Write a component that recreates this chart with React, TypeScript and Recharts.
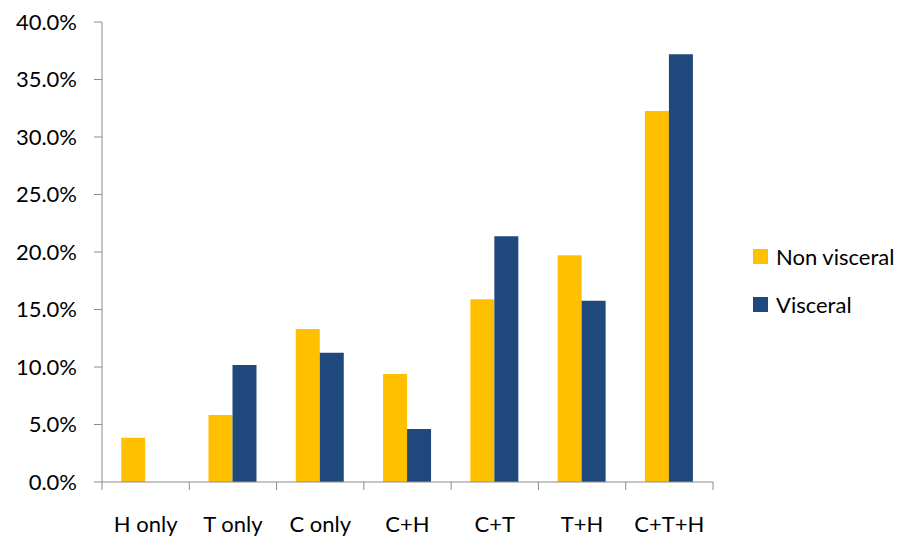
import React from "react";
import { BarChart, Bar, XAxis, YAxis } from "recharts";

const categories = ["H only", "T only", "C only", "C+H", "C+T", "T+H", "C+T+H"];
const nonVisceral = [3.85, 5.83, 13.3, 9.39, 15.89, 19.71, 32.26];
const visceral = [null, 10.17, 11.24, 4.6, 21.36, 15.77, 37.19];
const yTicks = [0, 5, 10, 15, 20, 25, 30, 35, 40];

const series = [
  { key: "nonVisceral", name: "Non visceral", color: "#FFC000" },
  { key: "visceral", name: "Visceral", color: "#1F497D" },
];

const W = 907;
const H = 538;
const MARGIN = { top: 22, right: 194, bottom: 6, left: 0 };
const Y_AXIS_W = 102;
const PLOT_W = W - MARGIN.left - MARGIN.right - Y_AXIS_W;
const FONT = "Lato, 'Open Sans', sans-serif";
const FONT_SIZE = 22;
const AXIS_COLOR = "#8c8c8c";
const X_TICK = 8;

const data = categories.map((name, i) => ({
  name,
  nonVisceral: nonVisceral[i],
  visceral: visceral[i],
}));

// excel style: tick marks sit between categories, not under them
// y arrives already pushed down by tickSize, so lines go back up to the axis
function CategoryTick(props: any) {
  const { x, y, payload, index } = props;
  const band = PLOT_W / categories.length;
  const left = x - band / 2;
  return (
    <g>
      <line x1={left} y1={y - X_TICK} x2={left} y2={y} stroke={AXIS_COLOR} />
      {index === categories.length - 1 && (
        <line x1={left + band} y1={y - X_TICK} x2={left + band} y2={y} stroke={AXIS_COLOR} />
      )}
      <text x={x} y={y + 42} textAnchor="middle" fill="#000" fontSize={FONT_SIZE} fontFamily={FONT}>
        {payload.value}
      </text>
    </g>
  );
}

export default function App() {
  return (
    <div style={{ position: "absolute", left: 0, top: 0, background: "#fff", width: W, height: H }}>
      <BarChart width={W} height={H} data={data} margin={MARGIN} barCategoryGap="22%" barGap={0}>
        <XAxis
          dataKey="name"
          stroke={AXIS_COLOR}
          tickLine={false}
          tickSize={X_TICK}
          tickMargin={0}
          height={50}
          interval={0}
          tick={<CategoryTick />}
        />
        <YAxis
          domain={[0, 40]}
          ticks={yTicks}
          width={Y_AXIS_W}
          stroke={AXIS_COLOR}
          tickSize={8}
          tickMargin={17}
          tick={{ fill: "#000", fontSize: FONT_SIZE, fontFamily: FONT }}
          tickFormatter={(v) => `${v.toFixed(1)}%`}
          interval={0}
        />
        {series.map((s) => (
          <Bar key={s.key} dataKey={s.key} name={s.name} fill={s.color} isAnimationActive={false} />
        ))}
      </BarChart>

      {/* legend sits beside the plot, drawn outside recharts so it doesn't eat plot height */}
      <div style={{ position: "absolute", left: 753, top: 232, fontFamily: FONT, fontSize: FONT_SIZE, color: "#000" }}>
        {series.map((s) => (
          <div key={s.key} style={{ display: "flex", alignItems: "center", height: 48 }}>
            <span style={{ width: 15, height: 15, background: s.color, marginRight: 8, display: "inline-block" }} />
            <span>{s.name}</span>
          </div>
        ))}
      </div>
    </div>
  );
}
